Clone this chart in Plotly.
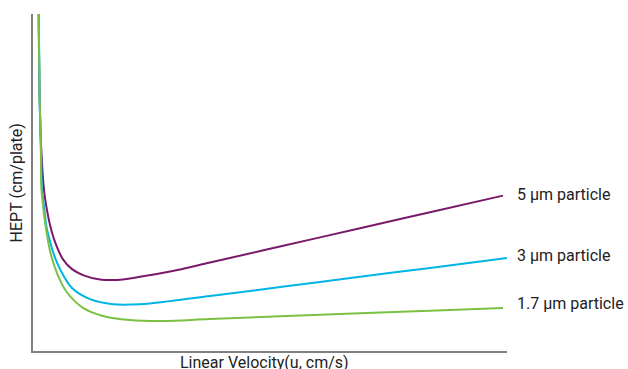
import plotly.graph_objects as go

# Van Deemter style curves: plate height vs linear velocity (arbitrary units)
labels = ["5 μm particle", "3 μm particle", "1.7 μm particle"]
colors = ["#7a1a6a", "#00b4e6", "#7ac143"]

vel_5um = [0.120, 0.141, 0.175, 0.232, 0.295, 0.359, 0.464, 0.633, 0.823, 1.097,
           1.413, 1.772, 2.257, 2.890, 3.734, 5.211, 6.899, 8.376, 9.916]
hept_5um = [10.0, 7.45, 5.96, 4.78, 4.18, 3.74, 3.24, 2.72, 2.43, 2.23,
            2.12, 2.11, 2.20, 2.36, 2.625, 3.10, 3.643, 4.117, 4.61]

vel_3um = [0.120, 0.141, 0.169, 0.190, 0.217, 0.289, 0.359, 0.443, 0.570, 0.823,
           1.203, 1.688, 2.257, 2.890, 3.734, 5.211, 6.899, 8.376, 10.0]
hept_3um = [10.0, 7.45, 5.96, 4.78, 4.48, 3.65, 3.26, 2.85, 2.43, 1.87,
            1.54, 1.39, 1.39, 1.48, 1.63, 1.896, 2.20, 2.466, 2.758]

vel_17um = [0.120, 0.141, 0.165, 0.179, 0.200, 0.253, 0.369, 0.506, 0.696, 1.055,
            1.477, 2.046, 2.743, 3.734, 5.211, 6.899, 8.376, 9.916]
hept_17um = [10.0, 7.45, 5.96, 4.78, 4.48, 3.83, 2.91, 2.31, 1.78, 1.28,
             1.04, 0.92, 0.89, 0.95, 1.028, 1.118, 1.196, 1.278]

series = [(vel_5um, hept_5um), (vel_3um, hept_3um), (vel_17um, hept_17um)]

fig = go.Figure()
for (vx, hy), name, col in zip(series, labels, colors):
    fig.add_trace(go.Scatter(
        x=vx, y=hy, mode="lines", name=name,
        line=dict(color=col, width=2, shape="spline", smoothing=1.0),
        showlegend=False, hoverinfo="skip",
    ))

# Curve labels placed just right of each line end
label_y = [4.63, 2.82, 1.42]
for name, ly in zip(labels, label_y):
    fig.add_annotation(
        x=1.017, y=ly / 10.0, xref="paper", yref="paper",
        text=name, showarrow=False, xanchor="left", yanchor="middle",
        font=dict(family="Roboto", size=16, color="#222222"),
    )

# Axis titles
fig.add_annotation(
    x=-0.034, y=0.5, xref="paper", yref="paper", text="HEPT (cm/plate)",
    textangle=-90, showarrow=False, xanchor="center", yanchor="middle",
    font=dict(family="Roboto", size=16, color="#222222"),
)
fig.add_annotation(
    x=0.489, y=0.0, xref="paper", yref="paper", text="Linear Velocity(u, cm/s)",
    showarrow=False, xanchor="center", yanchor="top",
    font=dict(family="Roboto", size=16, color="#222222"),
)

axis_style = dict(
    showline=True, linecolor="#808080", linewidth=2, mirror=False,
    showgrid=False, zeroline=False, showticklabels=False, ticks="",
    fixedrange=True,
)
fig.update_xaxes(range=[0, 10], **axis_style)
fig.update_yaxes(range=[0, 10], **axis_style)

fig.update_layout(
    width=628, height=369,
    margin=dict(l=33, r=121, t=14, b=18),
    paper_bgcolor="white", plot_bgcolor="white",
)

fig.write_html("out.html")
